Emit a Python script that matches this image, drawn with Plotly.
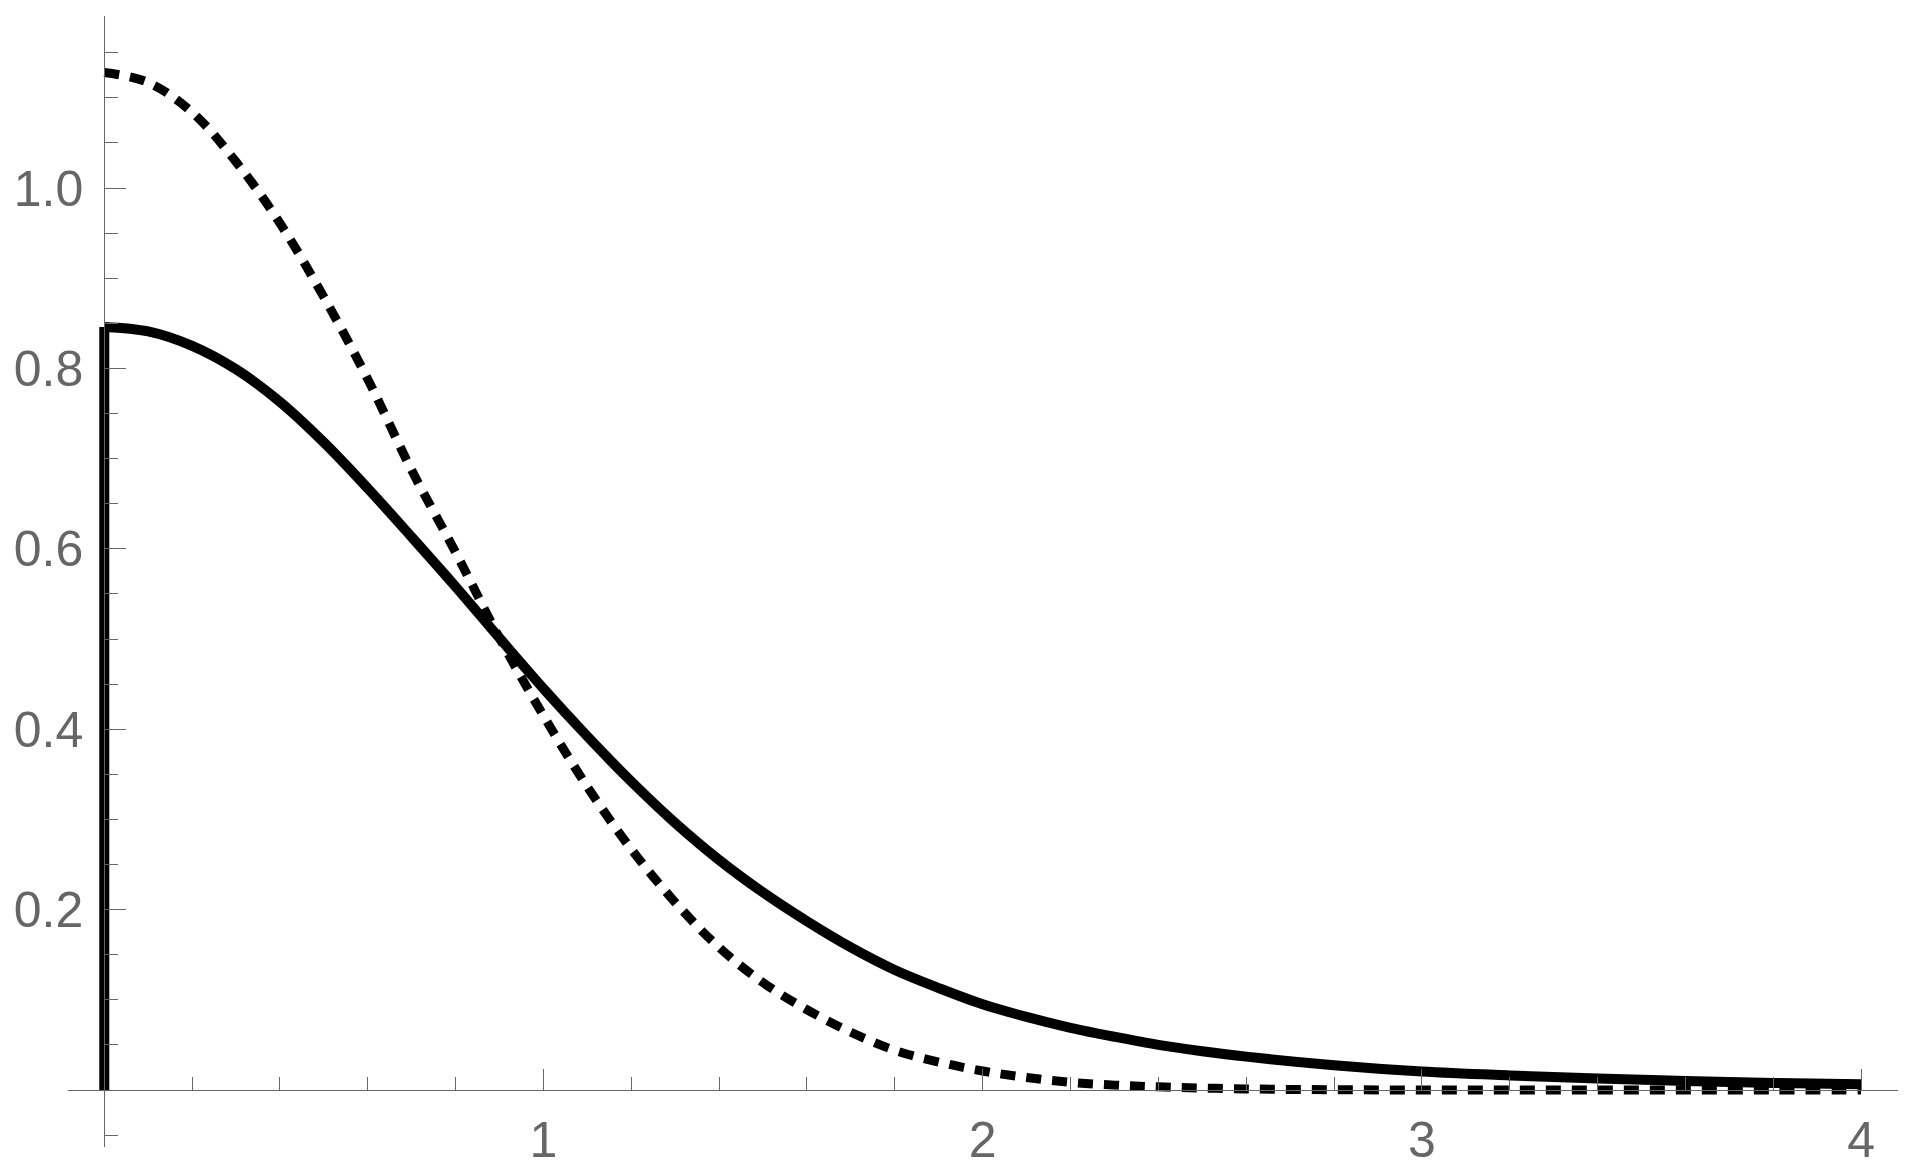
import plotly.graph_objects as go

# ---- data ----
solid_x = [0.1 * i for i in range(0, 27)] + [2.8, 3.0, 3.2, 3.4, 3.6, 3.8, 4.0]
solid_y = [0.846, 0.841, 0.825, 0.799, 0.763, 0.718, 0.667, 0.613, 0.558, 0.501,
           0.445, 0.392, 0.342, 0.296, 0.255, 0.219, 0.187, 0.158, 0.133, 0.113,
           0.095, 0.081, 0.069, 0.059, 0.050, 0.043, 0.037,
           0.0275, 0.0205, 0.0162, 0.0128, 0.0100, 0.0078, 0.0063]

step_x = [0.0, 0.0]
step_y = [0.0, 0.846]

dashed_x = [0.1 * i for i in range(0, 25)] + [2.6, 2.8, 3.0, 3.2, 3.4, 3.6, 3.8, 4.0]
dashed_y = [1.128, 1.117, 1.084, 1.029, 0.961, 0.879, 0.788, 0.687, 0.596, 0.501,
            0.415, 0.336, 0.267, 0.208, 0.158, 0.119, 0.089, 0.064, 0.044, 0.031,
            0.021, 0.0139, 0.0085, 0.0054, 0.0035, 0.0012, 0.0003, 0.0, 0.0, 0.0, 0.0, 0.0, 0.0]

x_tick_vals = [1, 2, 3, 4]
x_tick_text = ["1", "2", "3", "4"]
y_tick_vals = [0.2, 0.4, 0.6, 0.8, 1.0]
y_tick_text = ["0.2", "0.4", "0.6", "0.8", "1.0"]

x_minor = [round(0.2 * i, 2) for i in range(1, 20) if i % 5 != 0]
y_minor = [-0.05] + [round(0.05 * i, 2) for i in range(1, 24) if i % 4 != 0]

X_RANGE = [-0.0826, 4.0841]
Y_RANGE = [-0.0632, 1.1907]

AX = "#666666"
FONT = dict(family="Liberation Sans, Arial, sans-serif", size=50, color=AX)

fig = go.Figure()
fig.add_trace(go.Scatter(x=step_x, y=step_y, mode="lines",
                         line=dict(color="black", width=10), hoverinfo="skip"))
fig.add_trace(go.Scatter(x=solid_x, y=solid_y, mode="lines",
                         line=dict(color="black", width=10, shape="spline", smoothing=1),
                         hoverinfo="skip"))
fig.add_trace(go.Scatter(x=dashed_x, y=dashed_y, mode="lines",
                         line=dict(color="black", width=9, dash="15px,11px",
                                   shape="spline", smoothing=1),
                         hoverinfo="skip"))

x_pos = (0 - Y_RANGE[0]) / (Y_RANGE[1] - Y_RANGE[0])
y_pos = (0 - X_RANGE[0]) / (X_RANGE[1] - X_RANGE[0])

# the page body keeps an 8px default margin, so the figure is 16px smaller
fig.update_layout(
    width=1904, height=1159,
    margin=dict(l=60, r=14, t=8, b=20, pad=0, autoexpand=False),
    paper_bgcolor="white", plot_bgcolor="white",
    showlegend=False,
    xaxis=dict(range=X_RANGE, anchor="free", position=x_pos, automargin=False,
               showline=True, linecolor=AX, linewidth=1,
               showgrid=False, zeroline=False,
               ticks="inside", ticklen=21, tickwidth=1, tickcolor=AX,
               tickmode="array", tickvals=x_tick_vals, ticktext=x_tick_text,
               tickfont=FONT, ticklabelstandoff=6,
               minor=dict(tickmode="array", tickvals=x_minor, ticks="inside",
                          ticklen=13, tickwidth=1, tickcolor=AX, showgrid=False)),
    yaxis=dict(range=Y_RANGE, anchor="free", position=y_pos, automargin=False,
               showline=True, linecolor=AX, linewidth=1,
               showgrid=False, zeroline=False,
               ticks="inside", ticklen=21, tickwidth=1, tickcolor=AX,
               tickmode="array", tickvals=y_tick_vals, ticktext=y_tick_text,
               tickfont=FONT, ticklabelstandoff=11,
               minor=dict(tickmode="array", tickvals=y_minor, ticks="inside",
                          ticklen=13, tickwidth=1, tickcolor=AX, showgrid=False)),
)

fig.write_html("out.html", config={"displayModeBar": False})
